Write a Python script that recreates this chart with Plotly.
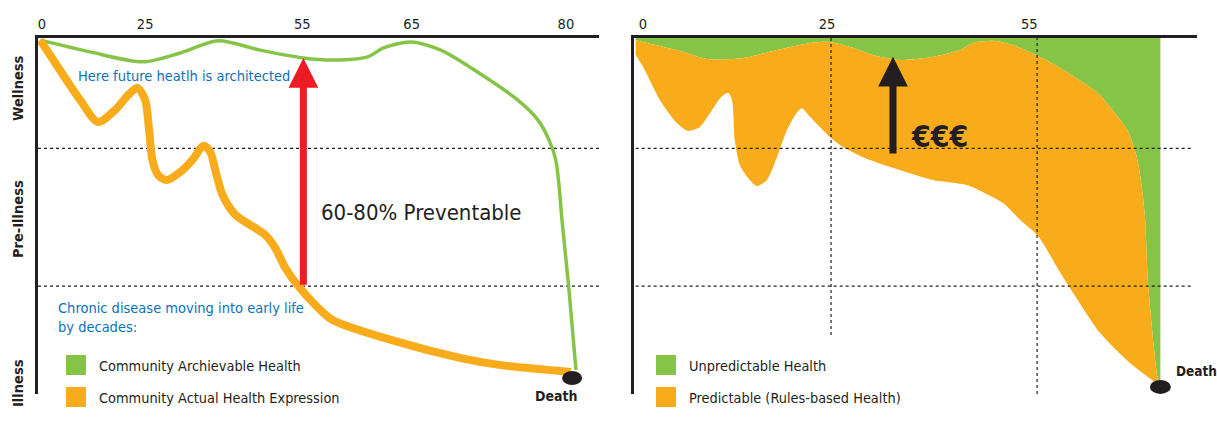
import plotly.graph_objects as go

W, H = 1217, 447

# ---------------- data ----------------
# Horizontal position = place along the life timeline (0-100 across each panel)
# Vertical value = health level (0 = illness / death, 100 = wellness)
left_tick_pos = [0.7, 19.1, 47.1, 66.6, 94.1]
left_tick_labels = ["0", "25", "55", "65", "80"]
right_tick_pos = [1.6, 34.3, 70.2]
right_tick_labels = ["0", "25", "55"]

achievable_x = [0.4, 9.3, 18.75, 25.4, 32.1, 39.6, 47.3, 52.7, 58.75, 61.6, 66.4, 71.8,
                78.4, 85.5, 89.1, 91.1, 92.3, 92.9, 93.4, 94.6, 95.9]
achievable_y = [99.4, 96.1, 93.3, 95.8, 99.2, 96.6, 94.4, 93.8, 94.7, 97.2, 98.9, 96.6,
                90.4, 82.6, 77.0, 71.3, 65.7, 58.1, 48.9, 30.1, 6.7]

actual_x = [0.4, 3.9, 7.5, 10.7, 13.75, 16.1, 17.7, 19.1, 19.8, 20.4, 21.4, 22.9, 25.4,
            27.5, 29.5, 30.7, 31.6, 32.9, 35.2, 38.75, 40.5, 42.3, 44.1, 46.25, 49.8,
            52.5, 62.9, 75.4, 82.5, 95.0]
actual_y = [99.4, 91.0, 82.6, 76.4, 79.8, 84.0, 86.0, 82.6, 74.2, 65.7, 61.5, 60.1, 62.4,
            65.7, 69.7, 68.0, 62.9, 55.9, 50.3, 46.6, 44.7, 41.0, 35.4, 30.6, 24.4,
            20.8, 15.2, 10.1, 8.1, 6.2]

# right panel: upper edge of "predictable" band (= lower edge of "unpredictable")
pred_top_x = [0.3, 7.6, 13.0, 19.4, 25.4, 31.3, 34.8, 38.4, 43.2, 47.8, 53.1, 57.9, 60.2,
              63.8, 67.3, 72.1, 76.9, 82.2, 84.0, 87.6, 89.3, 90.2, 90.8, 91.3, 93.1, 93.5]
pred_top_y = [99.4, 96.6, 94.1, 94.4, 96.6, 98.6, 98.9, 97.5, 94.9, 93.8, 94.7, 96.6, 98.6,
              99.2, 98.0, 94.7, 90.4, 84.8, 81.7, 74.2, 66.6, 58.1, 48.9, 31.2, 3.9, 2.2]
# lower edge of "predictable" band
pred_bot_x = [0.3, 1.6, 4.6, 7.6, 9.6, 11.7, 13.5, 15.3, 16.7, 17.4, 17.9, 18.8, 20.1,
              21.8, 23.6, 25.4, 27.2, 29.0, 29.8, 31.3, 34.8, 37.1, 41.9, 47.2, 53.1,
              59.1, 62.0, 65.5, 68.6, 71.6, 73.4, 75.1, 78.0, 82.8, 88.1, 93.5]
pred_bot_y = [95.2, 91.9, 82.6, 76.1, 73.9, 75.0, 78.9, 83.1, 84.6, 82.6, 71.3, 64.3, 61.0,
              58.4, 60.1, 66.6, 74.2, 79.2, 80.3, 77.8, 72.2, 69.4, 65.7, 62.9, 60.1,
              58.7, 56.7, 53.7, 48.9, 44.7, 40.4, 35.7, 28.4, 17.1, 8.7, 2.2]
unpredictable_top = [100, 100]
unpredictable_top_x = [0.3, 93.5]

death_left = (95.2, 4.5)
death_right = (93.5, 2.0)
level_lines = [69.0, 30.3]
right_decade_lines = [(35.0, 16.6), (71.6, 0.0)]
red_arrow = (47.3, 94.4, 30.3)
black_arrow = (46.0, 94.7, 67.1)

GREEN = "#86C447"
ORANGE = "#F9AC1B"
RED = "#ED1C24"
DARK = "#231F20"
BLUE = "#0C72BA"
FONT = "DejaVu Sans Condensed, Liberation Sans Narrow, Roboto, sans-serif"


def P(px, py):
    return px / W, 1 - py / H


fig = go.Figure()

# ---- left panel ----
fig.add_trace(go.Scatter(x=achievable_x, y=achievable_y, mode="lines", xaxis="x", yaxis="y",
                         line=dict(color=GREEN, width=3.5, shape="spline", smoothing=0.8),
                         hoverinfo="skip", showlegend=False))
fig.add_trace(go.Scatter(x=actual_x, y=actual_y, mode="lines", xaxis="x", yaxis="y",
                         line=dict(color=ORANGE, width=8, shape="spline", smoothing=0.8),
                         hoverinfo="skip", showlegend=False))

# ---- right panel ----
fig.add_trace(go.Scatter(x=unpredictable_top_x, y=unpredictable_top, mode="lines", xaxis="x2", yaxis="y2",
                         line=dict(width=0), hoverinfo="skip", showlegend=False))
fig.add_trace(go.Scatter(x=pred_top_x, y=pred_top_y, mode="lines", xaxis="x2", yaxis="y2",
                         line=dict(width=0, shape="spline", smoothing=0.7), fill="tonexty",
                         fillcolor=GREEN, hoverinfo="skip", showlegend=False))
fig.add_trace(go.Scatter(x=pred_bot_x, y=pred_bot_y, mode="lines", xaxis="x2", yaxis="y2",
                         line=dict(width=0, shape="spline", smoothing=0.7), fill="tonexty",
                         fillcolor=ORANGE, hoverinfo="skip", showlegend=False))

ydom = [1 - 394 / H, 1 - 38 / H]
axis_common = dict(showgrid=False, zeroline=False, showline=True, linewidth=3, linecolor=DARK,
                   ticks="", fixedrange=True)
fig.update_layout(
    width=W, height=H, margin=dict(l=0, r=0, t=0, b=0),
    paper_bgcolor="white", plot_bgcolor="white",
    font=dict(family=FONT, color=DARK),
    hovermode=False,
    xaxis=dict(domain=[38 / W, 599 / W], range=[0, 100], side="top", anchor="y",
               tickvals=left_tick_pos, ticktext=left_tick_labels,
               tickfont=dict(size=14.5, color=DARK, family=FONT), **axis_common),
    yaxis=dict(domain=ydom, range=[0, 100], anchor="x", showticklabels=False, **axis_common),
    xaxis2=dict(domain=[634 / W, 1197 / W], range=[0, 100], side="top", anchor="y2",
                tickvals=right_tick_pos, ticktext=right_tick_labels,
                tickfont=dict(size=14.5, color=DARK, family=FONT), **axis_common),
    yaxis2=dict(domain=ydom, range=[0, 100], anchor="x2", showticklabels=False, **axis_common),
)

shapes = []
for lv in level_lines:
    shapes.append(dict(type="line", xref="x", yref="y", x0=0, x1=100, y0=lv, y1=lv,
                       line=dict(color=DARK, width=1.2, dash="3px,3px"), layer="below"))
    shapes.append(dict(type="line", xref="x2", yref="y2", x0=0.3, x1=99.3, y0=lv, y1=lv,
                       line=dict(color=DARK, width=1.2, dash="3px,3px"), layer="above"))
for xv, ybot in right_decade_lines:
    shapes.append(dict(type="line", xref="x2", yref="y2", x0=xv, x1=xv, y0=ybot, y1=100,
                       line=dict(color=DARK, width=1.2, dash="3px,3px"), layer="above"))
# death points
for (dx, dy), xr, yr, w in [(death_left, "x", "y", 10), (death_right, "x2", "y2", 10.5)]:
    shapes.append(dict(type="circle", xref=xr, yref=yr, xsizemode="pixel", ysizemode="pixel",
                       xanchor=dx, yanchor=dy, x0=-w, x1=w, y0=-7, y1=7,
                       fillcolor=DARK, line=dict(width=0)))
# legend swatches
for sx in (66, 656):
    for sy, col in ((355, GREEN), (387, ORANGE)):
        x0, y1 = P(sx, sy)
        x1, y0 = P(sx + 20, sy + 20)
        shapes.append(dict(type="rect", xref="paper", yref="paper", x0=x0, x1=x1, y0=y0, y1=y1,
                           fillcolor=col, line=dict(width=0)))
fig.update_layout(shapes=shapes)

ann = []


def text(px, py, s, size=16, color=DARK, xanchor="left", bold=False, angle=0):
    x, y = P(px, py)
    if bold:
        s = "<b>" + s + "</b>"
    ann.append(dict(xref="paper", yref="paper", x=x, y=y, text=s, showarrow=False,
                    xanchor=xanchor, yanchor="middle", textangle=angle, align="left",
                    font=dict(size=size, color=color, family=FONT)))


text(76, 76, "Here future heatlh is architected", 14.5, BLUE)
text(56, 317, "Chronic disease moving into early life<br>by decades:", 14.5, BLUE)
text(319, 212, "60-80% Preventable", 22, DARK)
text(97, 366, "Community Archievable Health", 14.4)
text(97, 398, "Community Actual Health Expression", 14.4)
text(687, 366, "Unpredictable Health", 14.4)
text(687, 398, "Predictable (Rules-based Health)", 14.4)
text(556, 396, "Death", 14, xanchor="center", bold=True)
text(1174, 371, "Death", 13.5, bold=True)
text(940, 137, "€€€", 30, xanchor="center", bold=True)
text(18, 88, "Wellness", 14.5, xanchor="center", bold=True, angle=-90)
text(18, 219, "Pre-Illness", 14.5, xanchor="center", bold=True, angle=-90)
text(18, 383, "Illness", 14.5, xanchor="center", bold=True, angle=-90)

# arrows
ann.append(dict(xref="x", yref="y", axref="x", ayref="y", x=red_arrow[0], y=red_arrow[1],
                ax=red_arrow[0], ay=red_arrow[2], text="", showarrow=True, arrowhead=2,
                arrowsize=0.85, arrowwidth=7, arrowcolor=RED, standoff=0, startstandoff=0))
ann.append(dict(xref="x2", yref="y2", axref="x2", ayref="y2", x=black_arrow[0], y=black_arrow[1],
                ax=black_arrow[0], ay=black_arrow[2], text="", showarrow=True, arrowhead=2,
                arrowsize=0.85, arrowwidth=7, arrowcolor=DARK, standoff=0, startstandoff=0))
fig.update_layout(annotations=ann)

fig.write_html("out.html", config={"displayModeBar": False, "staticPlot": True},
               post_script="document.body.style.margin='0';document.body.style.overflow='hidden';")
